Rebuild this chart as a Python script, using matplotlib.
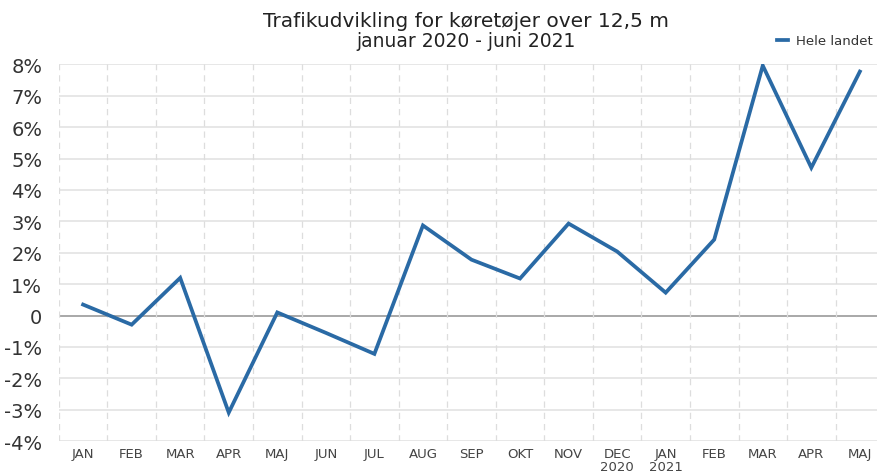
import matplotlib.pyplot as plt
from matplotlib.ticker import FuncFormatter

plt.rcParams['font.family'] = ['DejaVu Sans']

### data ###
months = ['JAN', 'FEB', 'MAR', 'APR', 'MAJ', 'JUN', 'JUL', 'AUG', 'SEP', 'OKT',
          'NOV', 'DEC\n2020', 'JAN\n2021', 'FEB', 'MAR', 'APR', 'MAJ']
hele_landet = [0.35, -0.29, 1.2, -3.09, 0.1, -0.55, -1.22, 2.87, 1.78, 1.18,
               2.93, 2.04, 0.73, 2.42, 7.96, 4.71, 7.77]
y_ticks = [-4, -3, -2, -1, 0, 1, 2, 3, 4, 5, 6, 7, 8]

fig = plt.figure(figsize=(8.78, 4.77), dpi=100)
ax = fig.add_axes([0.067, 0.073, 0.94, 0.79])

x = list(range(len(months)))
ax.plot(x, hele_landet, color='#2a6aa5', lw=2.7, solid_joinstyle='miter',
        label='Hele landet', zorder=3)

ax.set_xlim(-0.5, len(months) - 0.5)
ax.set_ylim(-4, 8)
ax.set_yticks(y_ticks)
ax.yaxis.set_major_formatter(FuncFormatter(lambda v, p: '0' if v == 0 else '%d%%' % v))
ax.set_xticks(x)
ax.set_xticklabels(months, fontsize=9.5, color='#444444', linespacing=1.0, va='top')

# grid: solid horizontals, dashed verticals between months
for yv in y_ticks:
    ax.axhline(yv, color='#999999' if yv == 0 else '#e3e3e3', lw=1.2, zorder=1)
for b in range(len(months)):
    ax.axvline(b - 0.5, color='#dddddd', lw=0.9, ls=(0, (5, 4)), zorder=1)

ax.tick_params(axis='y', labelsize=14, colors='#333333', length=0, pad=12)
ax.tick_params(axis='x', length=0, pad=4)
for s in ax.spines.values():
    s.set_visible(False)

fig.text(0.531, 0.943, 'Trafikudvikling for køretøjer over 12,5 m', ha='center', va='baseline',
         fontsize=14.5, color='#222222')
fig.text(0.531, 0.901, 'januar 2020 - juni 2021', ha='center', va='baseline',
         fontsize=13.5, color='#222222')

fig.legend(loc='center left', bbox_to_anchor=(0.872, 0.912), frameon=False,
           fontsize=9.5, handlelength=0.8, handletextpad=0.6, labelcolor='#333333')

fig.savefig('out.png', dpi=100, facecolor='white')
